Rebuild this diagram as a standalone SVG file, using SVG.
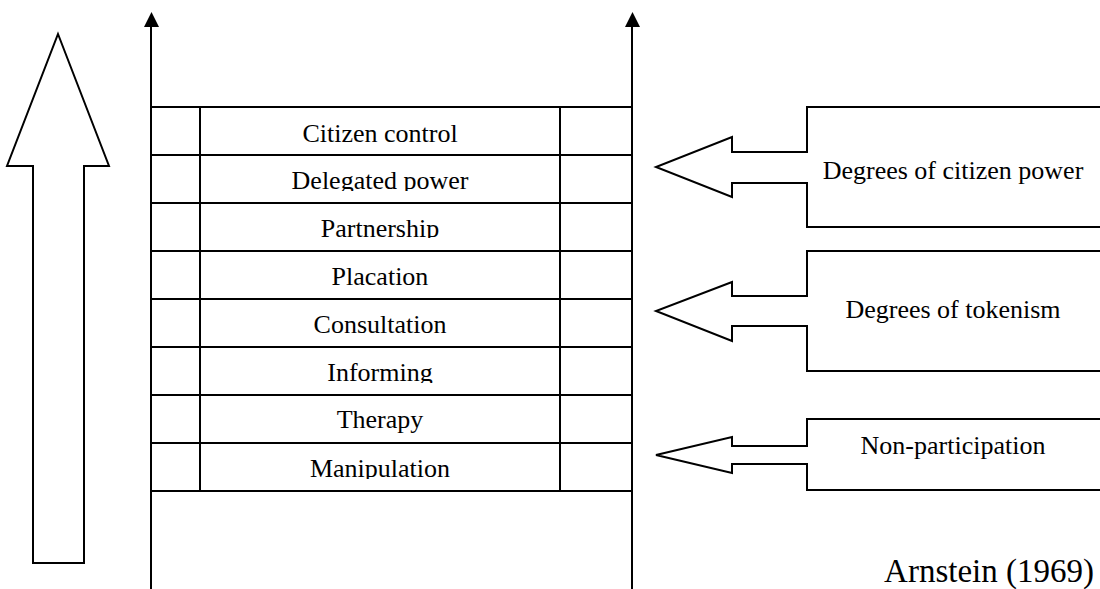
<svg xmlns="http://www.w3.org/2000/svg" width="1100" height="589" viewBox="0 0 1100 589">
<style>
.ln{stroke:#000;stroke-width:2;fill:none}
.sh{stroke:#000;stroke-width:2;fill:#fff;stroke-linejoin:miter}
.lbl{font-family:"Liberation Serif","Times New Roman",serif;font-size:26px;fill:#000;text-anchor:middle}
.src{font-family:"Liberation Serif","Times New Roman",serif;font-size:33px;fill:#000;text-anchor:end}
.head{fill:#000}
</style>
<defs>
<clipPath id="c2"><rect x="200" y="155" width="360" height="36"/></clipPath>
<clipPath id="c3"><rect x="200" y="203" width="360" height="35"/></clipPath>
<clipPath id="c6"><rect x="200" y="347" width="360" height="36"/></clipPath>
<clipPath id="c7"><rect x="200" y="395" width="360" height="38"/></clipPath>
<clipPath id="c8"><rect x="200" y="443" width="360" height="36"/></clipPath>
</defs>
<rect width="1100" height="589" fill="#fff"/>

<g id="connectors">
<polygon id="big-arrow" class="sh" points="58,34 109,166 84,166 84,563 33,563 33,166 7,166"/>
<line class="ln" x1="151" y1="589" x2="151" y2="26"/>
<line class="ln" x1="632" y1="589" x2="632" y2="26"/>
<path class="head" d="M144,27 L151.5,12 L159,27 Z"/>
<path class="head" d="M625,27 L632.5,12 L640,27 Z"/>
</g>

<g id="ladder">
<g class="ln">
<line x1="151" y1="107" x2="632" y2="107"/>
<line x1="151" y1="155" x2="632" y2="155"/>
<line x1="151" y1="203" x2="632" y2="203"/>
<line x1="151" y1="251" x2="632" y2="251"/>
<line x1="151" y1="299" x2="632" y2="299"/>
<line x1="151" y1="347" x2="632" y2="347"/>
<line x1="151" y1="395" x2="632" y2="395"/>
<line x1="151" y1="443" x2="632" y2="443"/>
<line x1="151" y1="491" x2="632" y2="491"/>
<line x1="200" y1="107" x2="200" y2="491"/>
<line x1="560" y1="107" x2="560" y2="491"/>
</g>
</g>

<g id="rung-citizen-control"><text class="lbl" x="380" y="142">Citizen control</text></g>
<g id="rung-delegated-power"><text class="lbl" x="380" y="189" clip-path="url(#c2)">Delegated power</text></g>
<g id="rung-partnership"><text class="lbl" x="380" y="237" clip-path="url(#c3)">Partnership</text></g>
<g id="rung-placation"><text class="lbl" x="380" y="285">Placation</text></g>
<g id="rung-consultation"><text class="lbl" x="380" y="333">Consultation</text></g>
<g id="rung-informing"><text class="lbl" x="380" y="381" clip-path="url(#c6)">Informing</text></g>
<g id="rung-therapy"><text class="lbl" x="380" y="428" clip-path="url(#c7)">Therapy</text></g>
<g id="rung-manipulation"><text class="lbl" x="380" y="477" clip-path="url(#c8)">Manipulation</text></g>

<g id="callout-citizen-power">
<polyline class="sh" points="1102,107 807,107 807,152 732,152 732,137 656,167 732,197 732,183 807,183 807,227 1102,227"/>
<text class="lbl" x="953" y="179">Degrees of citizen power</text>
</g>
<g id="callout-tokenism">
<polyline class="sh" points="1102,251 807,251 807,296 732,296 732,282 656,311 732,341 732,326 807,326 807,371 1102,371"/>
<text class="lbl" x="953" y="318">Degrees of tokenism</text>
</g>
<g id="callout-non-participation">
<polyline class="sh" points="1102,419 807,419 807,446 732,446 732,437 656,455 732,473 732,464 807,464 807,490 1102,490"/>
<text class="lbl" x="953" y="454">Non-participation</text>
</g>

<g id="source"><text class="src" x="1094" y="582">Arnstein (1969)</text></g>
</svg>
